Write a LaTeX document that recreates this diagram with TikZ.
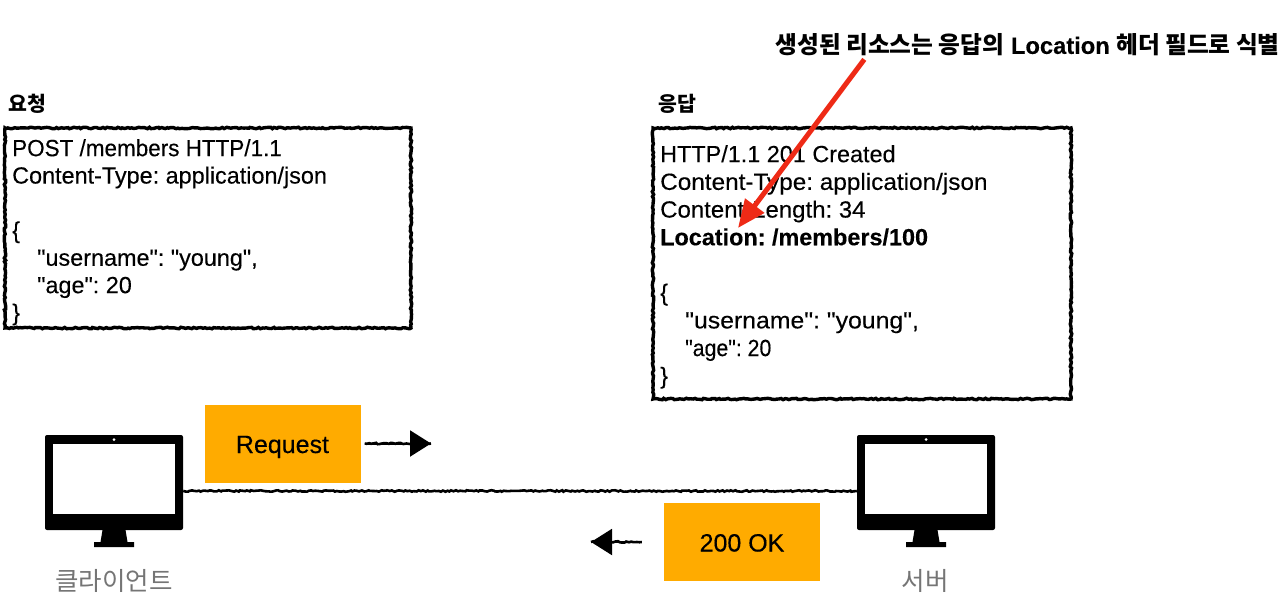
\documentclass[tikz,border=0pt]{standalone}
\usepackage{fontspec}
\usepackage{graphicx}
\setmainfont{Liberation Sans}[Ligatures=TeXOff,FakeBold=0.25]
\newfontfamily\kr{Noto Sans CJK KR}
\usetikzlibrary{decorations.pathmorphing,arrows.meta,calc}
\definecolor{tagorange}{HTML}{FFAB00}
\definecolor{labelgray}{HTML}{757575}
\definecolor{callout}{HTML}{EE2A16}
\frenchspacing
\tikzset{
  x=1pt,y=-1pt,
  rough/.style={decoration={random steps,segment length=2.2pt,amplitude=0.75pt},decorate},
  msgbox/.style={draw=black,line width=3.4pt,rough},
  msgtext/.style={anchor=north west,align=left,inner sep=0pt,font=\fontsize{23.4}{27.4}\selectfont},
  resptext/.style={msgtext,font=\fontsize{23.4}{27.7}\selectfont},
  tag/.style={fill=tagorange,minimum width=156pt,minimum height=78pt,inner sep=0pt,text height=19pt,text depth=0pt,font=\fontsize{25}{30}\selectfont},
  head/.style={anchor=west,inner sep=0pt,font=\fontsize{20.5}{24}\selectfont\bfseries\kr},
  devlabel/.style={inner sep=0pt,text=labelgray,font=\fontsize{25.5}{30}\selectfont\kr},
  body/.style={fill=black,rounded corners=2pt,minimum width=138pt,minimum height=95pt,inner sep=0pt},
  screen/.style={fill=white,minimum width=122pt,minimum height=70pt,inner sep=0pt},
  dot/.style={circle,fill=white,minimum size=3pt,inner sep=0pt},
  wire/.style={draw=black,line width=2.6pt,rough},
  pointer/.style={draw=black,line width=2pt,-{Triangle[length=21pt,width=26pt]},postaction={draw,rough,arrows=-,line width=2.6pt}},
  calloutarrow/.style={draw=callout,line width=5pt,-{Triangle[length=28pt,width=23pt]}}
}
\newcommand{\monitor}[2]{%
  \node[body] (#1) at (#2,482.5) {};
  \node[screen] (#1scr) at (#2,479) {};
  \node[dot] (#1dot) at (#2,439.5) {};
  \fill[black] (#2-11.5,530) -- (#2+11.5,530) -- (#2+13.5,542) -- (#2+20,542) -- (#2+20,547) -- (#2-20,547) -- (#2-20,542) -- (#2-13.5,542) -- cycle;
}
\begin{document}
\begin{tikzpicture}
\useasboundingbox (0,0) rectangle (1288,602);
% headings
\node[head] (reqhead) at (8,104) {요청};
\node[head] (resphead) at (658,104) {응답};
\node[anchor=east,inner sep=0pt,font=\fontsize{23.7}{28}\selectfont\bfseries] (note) at (1280,45) {{\kr 생성된 리소스는 응답의} Location {\kr 헤더 필드로 식별}};
% message boxes
\draw[msgbox] (5,128) rectangle (411,328);
\draw[msgbox] (653,128) rectangle (1071,399);
\node[msgtext] (reqtext) at (12,139) {\scalebox{0.96}[1]{POST /members HTTP/1.1}\\Content-Type: application/json\\[27.4pt]\{\\\hspace{25pt}"username": "young",\\\hspace{25pt}"age": 20\\\}};
\node[resptext] (resptext) at (660,145) {HTTP/1.1 201 Created\\\scalebox{1.04}[1]{Content-Type: application/json}\\\scalebox{1.025}[1]{Content-Length: 34}\\\textbf{Location: /members/100}\\[27.7pt]\{\\\hspace{25pt}\scalebox{1.06}[1]{"username": "young",}\\\hspace{25pt}\scalebox{0.91}[1]{"age": 20}\\\}};
% monitors
\monitor{client}{114}
\monitor{server}{926}
\draw[wire] ([yshift=-8.5pt]client.east) -- ([yshift=-8.5pt]server.west);
\node[devlabel] (clientlabel) at (114,581) {클라이언트};
\node[devlabel] (serverlabel) at (925,581) {서버};
% tags
\node[tag] (req) at (282.5,443.5) {Request};
\node[tag] (ok) at (742,542) {200 OK};
\coordinate (reqend) at (431,443.5);
\coordinate (okend) at (591,542);
\draw[pointer] ([xshift=4pt]req.east) -- (reqend);
\draw[pointer] ([xshift=-22pt]ok.west) -- (okend);
% callout arrow
\coordinate (calloutend) at (738,228);
\draw[calloutarrow] ($(note.south west)+(89,3)$) -- (calloutend);
\end{tikzpicture}
\end{document}
